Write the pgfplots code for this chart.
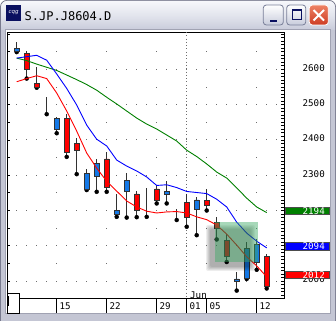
\documentclass[border=0pt]{standalone}
\usepackage{pgfplots}
\pgfplotsset{compat=1.18}
\usepackage{pgfplotstable}
\usepackage{fontspec}
\setmainfont{DejaVu Sans}
\newfontfamily\mono{DejaVu Sans Mono}
\newcommand\labfont{\mono\fontsize{9.2}{10}\selectfont}
\definecolor{cred}{RGB}{255,0,0}
\definecolor{cblue}{RGB}{20,120,230}
\definecolor{cedge}{RGB}{50,50,50}
\definecolor{mared}{RGB}{255,0,0}
\definecolor{mablue}{RGB}{0,0,255}
\definecolor{magreen}{RGB}{0,128,0}
\definecolor{griddot}{RGB}{110,110,110}
\definecolor{framecol}{RGB}{196,198,212}
\definecolor{frameout}{RGB}{120,122,142}
\definecolor{tbtop}{RGB}{246,247,251}
\definecolor{tbmid}{RGB}{226,228,237}
\definecolor{tbbot}{RGB}{200,203,218}
\definecolor{navy}{RGB}{10,16,96}
\definecolor{btnedge}{RGB}{120,126,152}
\definecolor{btnbot}{RGB}{200,204,220}
\definecolor{closetop}{RGB}{238,130,100}
\definecolor{closebot}{RGB}{205,60,35}
\definecolor{hlgreen}{RGB}{60,170,100}
\definecolor{clientedge}{RGB}{160,162,178}

\pgfplotstableread{
x o h l c
-4 2651 2678 2649 2659
-3 2645 2652 2574 2600
-2 2560 2606 2548 2549
-1 2508 2521 2473 2508
0 2430 2466 2419 2461
1 2461 2473 2352 2365
2 2390 2406 2303 2371
3 2260 2319 2258 2305
4 2298 2346 2253 2334
5 2346 2365 2253 2266
6 2189 2247 2182 2201
7 2253 2306 2180 2286
8 2247 2256 2181 2199
9 2221 2265 2182 2221
10 2261 2272 2220 2228
11 2246 2284 2220 2255
12 2179 2205 2173 2179
13 2222 2248 2154 2181
14 2202 2239 2130 2230
15 2229 2260 2200 2214
16 2165 2183 2118 2149
17 2114 2133 2054 2070
18 2000 2026 1973 2006
19 2008 2111 2006 2093
20 2054 2118 2032 2104
21 2069 2076 1979 1986
}\candles

\pgfplotstableread{
x r b g
-4 2565 2632 2632
-3 2574 2636 2625
-2 2582 2640 2615
-1 2574 2626 2606
0 2533 2587 2597
1 2482 2546 2584
2 2425 2499 2571
3 2363 2442 2557
4 2320 2402 2541
5 2283 2383 2521
6 2255 2343 2502
7 2227 2326 2482
8 2210 2312 2462
9 2198 2295 2445
10 2193 2271 2431
11 2196 2273 2414
12 2197 2265 2397
13 2193 2254 2371
14 2182 2251 2353
15 2174 2248 2332
16 2159 2232 2309
17 2133 2210 2292
18 2102 2167 2264
19 2069 2136 2235
20 2043 2113 2210
21 2012 2094 2194
}\mas

\pgfplotsset{chartaxis/.style={at={(7pt,22pt)}, anchor=south west,
  width=277pt, height=266pt, scale only axis,
  xmin=-4.97, xmax=22.73, ymin=1952, ymax=2706}}

\begin{document}
\begin{tikzpicture}
\useasboundingbox (0,0) rectangle (336pt,320pt);
\begin{scope}[x=1pt,y=1pt]
\fill[white] (0,0) rectangle (336,320);
\fill[frameout, rounded corners=7pt] (0,-10) rectangle (336,320);
\fill[framecol, rounded corners=6pt] (1,-10) rectangle (335,319);
\shade[top color=tbtop, bottom color=tbbot, middle color=tbmid] (1,290) [rounded corners=6pt] -- (1,319) -- (335,319) [sharp corners] -- (335,290) -- cycle;
\fill[white] (6,6.5) rectangle (330,290);
\draw[clientedge, line width=0.8pt] (5.6,6.1) rectangle (330.4,290.4);
% icon
\fill[navy] (6,299) rectangle (21.3,315);
\node[white, inner sep=0pt, font=\fontsize{5.5}{6}\selectfont\itshape] at (13.7,307.5) {cqg};
% title
\node[anchor=base west, inner sep=0pt, font=\mono\fontsize{12}{14}\selectfont, text={RGB:red,20;green,20;blue,30}] at (24.5,299) {S.JP.J8604.D};
% buttons
\shadedraw[top color=white, bottom color=btnbot, draw=btnedge, rounded corners=3pt, line width=0.8pt] (263.3,295) rectangle (283.3,315);
\fill[navy] (269.5,297.8) rectangle (276.5,300.2);
\shadedraw[top color=white, bottom color=btnbot, draw=btnedge, rounded corners=3pt, line width=0.8pt] (286.7,295) rectangle (305.7,315);
\draw[navy, line width=1pt] (292.3,300) rectangle (301.7,310);
\fill[navy] (291.8,308.6) rectangle (302.2,310.6);
\shadedraw[top color=closetop, bottom color=closebot, draw=white, rounded corners=3pt, line width=0.8pt] (309.3,295) rectangle (328.3,315);
\draw[white, line width=2pt] (313.5,299.5) -- (324,310) (313.5,310) -- (324,299.5);
\end{scope}

% axis A: frame, grid, labels, wicks
\begin{axis}[chartaxis,
  axis line style={black, line width=0.9pt},
  ytick={2000,2100,2200,2300,2400,2500,2600},
  yticklabels={2000,{},{},2300,2400,2500,2600},
  minor ytick={2050,2150,2250,2350,2450,2550,2650},
  ymajorgrids=true, yminorgrids=true,
  major grid style={griddot, line width=0.9pt, dash pattern=on 0.9pt off 9.1pt, dash phase=0.8pt},
  minor grid style={griddot, line width=0.9pt, dash pattern=on 0.9pt off 49.1pt, dash phase=0.8pt},
  ytick style={draw=none}, minor tick length=0pt,
  yticklabel pos=right,
  yticklabel style={anchor=east, inner sep=0pt, xshift=26.5pt, yshift=1.5pt, font=\labfont, text=black},
  xtick={0,5,10,13,15,20}, xticklabels={15,22,29,01,05,12},
  xtick pos=bottom, tick align=outside, major tick length=14.5pt,
  xtick style={black, line width=0.9pt},
  xticklabel style={anchor=west, inner sep=0pt, xshift=2.8pt, yshift=6.5pt, font=\labfont},
]
\draw[griddot, line width=0.9pt, dash pattern=on 0.9pt off 2.4pt] (axis cs:13,2706) -- (axis cs:13,1952);
\node[anchor=west, inner sep=0pt, font=\labfont, xshift=3.3pt, yshift=3pt] at (axis cs:13,1952) {Jun};
\addplot[only marks, mark=none, forget plot,
  error bars/.cd, y dir=plus, y explicit, error mark=none,
  error bar style={draw=cedge, solid, line width=0.9pt}]
  table[x=x, y=l, y error plus expr=\thisrow{h}-\thisrow{l}] \candles;
\end{axis}

% axis B: candle bodies
\begin{axis}[chartaxis, hide axis, ybar stacked, bar width=4.4pt]
\addplot[draw=none, fill=none] table[x=x, y expr={min(\thisrow{o},\thisrow{c})}] \candles;
\addplot[fill=cred, draw=cedge, line width=0.8pt] table[x=x, y expr={max(\thisrow{o}-\thisrow{c},0)}] \candles;
\addplot[fill=cblue, draw=cedge, line width=0.8pt] table[x=x, y expr={max(\thisrow{c}-\thisrow{o},0)}] \candles;
\end{axis}

% axis C: moving averages
\begin{axis}[chartaxis, hide axis]
\addplot[magreen, line width=0.9pt, mark=none] table[x=x, y=g] \mas;
\addplot[mablue, line width=0.9pt, mark=none] table[x=x, y=b] \mas;
\addplot[mared, line width=0.9pt, mark=none] table[x=x, y=r] \mas;
\end{axis}

\begin{scope}[x=1pt,y=1pt]
% edge ticks
\foreach \v in {1960,1970,...,2700} {
  \draw[black, line width=0.8pt] (281.3,{22+(\v-1952)*0.352785}) -- (284,{22+(\v-1952)*0.352785});
}
\foreach \v in {2000,2050,...,2700} {
  \draw[black, line width=0.8pt] (7,{22+(\v-1952)*0.352785}) -- (9.7,{22+(\v-1952)*0.352785});
}
% highlight box with soft shadow
\foreach \d in {0,1,2,3,4} {
  \fill[black, opacity=0.07, rounded corners=2pt] (210-\d,53-\d) rectangle (251+\d,91+\d);
}
\fill[hlgreen, opacity=0.45] (215,58.3) rectangle (258.3,98.3);
% value labels
\filldraw[fill=magreen, draw=black!70, line width=0.6pt] (285.7,105.7) rectangle (329.3,112.7);
\node[anchor=east, inner sep=0pt, font=\labfont, text=white] at (325,108.9) {2194};
\filldraw[fill=mablue, draw=black!70, line width=0.6pt] (285.7,70) rectangle (329.3,77.3);
\node[anchor=east, inner sep=0pt, font=\labfont, text=white] at (325,73.7) {2094};
\filldraw[fill=mared, draw=black!70, line width=0.6pt] (285.7,41.3) rectangle (329.3,48.7);
\node[anchor=east, inner sep=0pt, font=\labfont, text=white] at (325,45) {2012};
% slider box
\filldraw[fill=white, draw=black, line width=0.9pt] (7,6.7) rectangle (19.3,26.7);
\draw[black, line width=0.9pt] (8.9,14) -- (8.9,24);
\end{scope}
\end{tikzpicture}
\end{document}
